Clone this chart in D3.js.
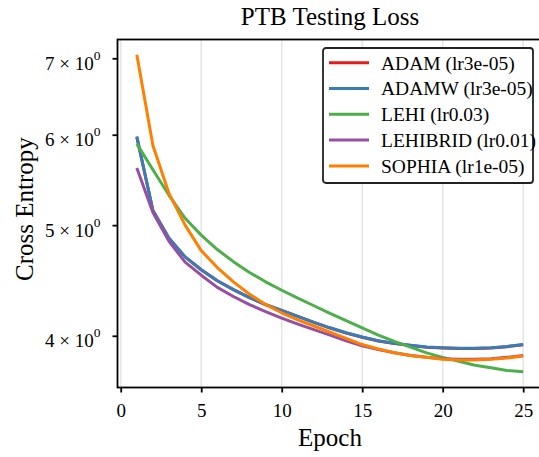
<!DOCTYPE html>
<html>
<head>
<meta charset="utf-8">
<script src="https://cdn.jsdelivr.net/npm/d3@7"></script>
<style>
  body { margin: 0; background: #fff; }
  svg { display: block; font-family: "Liberation Serif", "Times New Roman", serif; }
</style>
</head>
<body>
<script>
var epochs = d3.range(1, 26);

var seriesNames = ["ADAM (lr3e-05)", "ADAMW (lr3e-05)", "LEHI (lr0.03)", "LEHIBRID (lr0.01)", "SOPHIA (lr1e-05)"];
var seriesColors = ["#e41a1c", "#377eb8", "#4daf4a", "#984ea3", "#ff7f00"];

var adam = [5.97, 5.15, 4.87, 4.69, 4.57, 4.47, 4.39, 4.32, 4.26, 4.21, 4.16, 4.11, 4.063, 4.023, 3.988, 3.958, 3.938, 3.923, 3.908, 3.903, 3.898, 3.898, 3.903, 3.913, 3.928];
var adamw = [5.98, 5.15, 4.87, 4.69, 4.57, 4.47, 4.39, 4.32, 4.26, 4.21, 4.16, 4.11, 4.065, 4.025, 3.99, 3.96, 3.94, 3.925, 3.91, 3.905, 3.90, 3.90, 3.905, 3.915, 3.93];
var lehi = [5.89, 5.59, 5.31, 5.07, 4.90, 4.76, 4.645, 4.545, 4.46, 4.385, 4.315, 4.25, 4.185, 4.125, 4.065, 4.005, 3.955, 3.91, 3.865, 3.83, 3.80, 3.77, 3.75, 3.73, 3.72];
var lehibrid = [5.61, 5.13, 4.84, 4.64, 4.52, 4.41, 4.33, 4.26, 4.20, 4.145, 4.095, 4.05, 4.005, 3.96, 3.92, 3.89, 3.865, 3.845, 3.83, 3.82, 3.815, 3.815, 3.82, 3.83, 3.845];
var sophia = [7.05, 5.87, 5.33, 5.00, 4.75, 4.59, 4.46, 4.35, 4.26, 4.19, 4.13, 4.08, 4.03, 3.98, 3.93, 3.895, 3.865, 3.845, 3.83, 3.815, 3.81, 3.81, 3.815, 3.825, 3.84];

var xTicks = [0, 5, 10, 15, 20, 25];
var yTicks = [4, 5, 6, 7];

var allSeries = [adam, adamw, lehi, lehibrid, sophia];

var width = 539;
var height = 457;
var margin = {top: 39.5, left: 117.5, bottom: 69.5, right: -3.5};
var plotW = width - margin.left - margin.right;
var plotH = height - margin.top - margin.bottom;

var svg = d3.select("body").append("svg")
    .attr("width", width)
    .attr("height", height);

var x = d3.scaleLinear().domain([-0.2, 26.2]).range([0, plotW]);
var y = d3.scaleLog().domain([3.604, 7.27]).range([plotH, 0]);

var g = svg.append("g").attr("transform", "translate(" + margin.left + "," + margin.top + ")");

svg.append("defs").append("clipPath").attr("id", "clip")
  .append("rect").attr("width", plotW).attr("height", plotH);

// vertical grid only
g.append("g").selectAll("line").data(xTicks).enter().append("line")
    .attr("x1", function(d){ return x(d); })
    .attr("x2", function(d){ return x(d); })
    .attr("y1", 0).attr("y2", plotH)
    .attr("stroke", "#e6e6e6").attr("stroke-width", 1.6);

// lines
var line = d3.line()
    .x(function(d, i){ return x(epochs[i]); })
    .y(function(d){ return y(d); });

g.append("g").attr("clip-path", "url(#clip)").selectAll("path").data(allSeries).enter().append("path")
    .attr("d", line)
    .attr("fill", "none")
    .attr("stroke", function(d, i){ return seriesColors[i]; })
    .attr("stroke-width", 3)
    .attr("stroke-linejoin", "round");

// axes
var xAxis = g.append("g").attr("transform", "translate(0," + plotH + ")")
    .call(d3.axisBottom(x).tickValues(xTicks).tickSize(5).tickPadding(11));
xAxis.select(".domain").remove();
xAxis.selectAll("line").attr("stroke", "#000").attr("stroke-width", 1.8);
xAxis.selectAll("text").attr("font-size", 19).attr("font-family", "'Liberation Serif', serif").attr("fill", "#000");

var yAxis = g.append("g")
    .call(d3.axisLeft(y).tickValues(yTicks).tickSize(5).tickPadding(12).tickFormat(function(){ return ""; }));
yAxis.select(".domain").remove();
yAxis.selectAll("line").attr("stroke", "#000").attr("stroke-width", 1.8);
yAxis.selectAll("text").each(function(d){
  var t = d3.select(this)
      .attr("font-size", 19).attr("font-family", "'Liberation Serif', serif").attr("fill", "#000")
      .attr("dy", "0.58em");
  t.append("tspan").text(d + " \u00d7 10");
  t.append("tspan").attr("font-size", 13.5).attr("dy", "-0.75em").text("0");
});

// frame (left, bottom, top spines; right is off canvas)
g.append("rect")
    .attr("width", plotW).attr("height", plotH)
    .attr("fill", "none").attr("stroke", "#000").attr("stroke-width", 1.8);

// title and labels
svg.append("text")
    .attr("x", margin.left + plotW / 2).attr("y", 25)
    .attr("text-anchor", "middle").attr("font-size", 25)
    .text("PTB Testing Loss");

svg.append("text")
    .attr("x", margin.left + plotW / 2).attr("y", 446)
    .attr("text-anchor", "middle").attr("font-size", 25)
    .text("Epoch");

svg.append("text")
    .attr("transform", "translate(33,209) rotate(-90)")
    .attr("text-anchor", "middle").attr("font-size", 25)
    .text("Cross Entropy");

// legend
var legend = svg.append("g").attr("transform", "translate(323,48)");
legend.append("rect")
    .attr("width", 210).attr("height", 135).attr("rx", 3)
    .attr("fill", "#fff").attr("stroke", "#222").attr("stroke-width", 1.8);

var rows = legend.selectAll("g.row").data(seriesNames).enter().append("g")
    .attr("transform", function(d, i){ return "translate(0," + (14.7 + i * 25.8) + ")"; });
rows.append("line")
    .attr("x1", 6).attr("x2", 46)
    .attr("stroke", function(d, i){ return seriesColors[i]; })
    .attr("stroke-width", 3);
rows.append("text")
    .attr("x", 58).attr("dy", "0.35em").attr("font-size", 19.5)
    .text(function(d){ return d; });
</script>
</body>
</html>
